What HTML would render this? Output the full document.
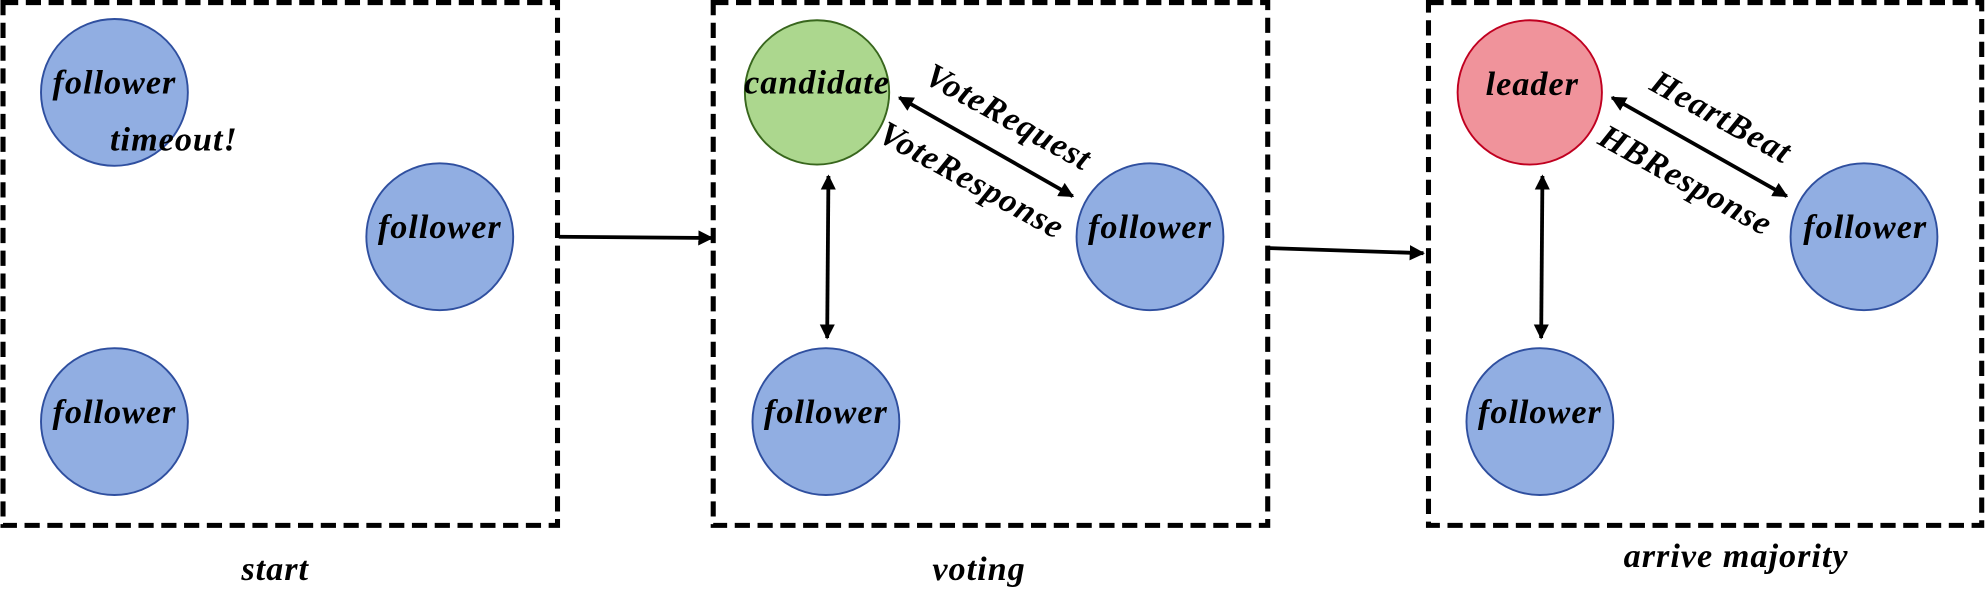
<!DOCTYPE html>
<html><head><meta charset="utf-8"><style>
html,body{margin:0;padding:0;background:#fff;}
svg{display:block;}
text{font-family:"Liberation Serif","DejaVu Serif",serif;font-weight:bold;font-style:italic;font-size:27px;letter-spacing:0.8px;fill:#000;text-anchor:middle;}
</style></head><body>
<svg width="1986" height="595" viewBox="0 0 1568 470" xmlns="http://www.w3.org/2000/svg">
<defs>
<marker id="a" viewBox="0 0 10 10" refX="9" refY="5" markerWidth="4" markerHeight="4" orient="auto-start-reverse"><path d="M0,0L10,5L0,10z" fill="#000"/></marker>
</defs>
<g fill="none" stroke="#000" stroke-width="4" stroke-dasharray="12,6">
<rect x="2" y="2" width="438" height="413"/>
<rect x="563" y="2" width="438" height="413"/>
<rect x="1128" y="2" width="437" height="413"/>
</g>
<g stroke-width="1.5">
<circle cx="90" cy="73" r="58" fill="#91aee2" stroke="#2f4f9f"/>
<circle cx="347" cy="187" r="58" fill="#91aee2" stroke="#2f4f9f"/>
<circle cx="90" cy="333" r="58" fill="#91aee2" stroke="#2f4f9f"/>
<circle cx="645" cy="73" r="57" fill="#acd78e" stroke="#38661d"/>
<circle cx="908" cy="187" r="58" fill="#91aee2" stroke="#2f4f9f"/>
<circle cx="652" cy="333" r="58" fill="#91aee2" stroke="#2f4f9f"/>
<circle cx="1208" cy="73" r="57" fill="#f0939b" stroke="#c00020"/>
<circle cx="1472" cy="187" r="58" fill="#91aee2" stroke="#2f4f9f"/>
<circle cx="1216" cy="333" r="58" fill="#91aee2" stroke="#2f4f9f"/>
</g>
<g stroke="#000" stroke-width="3" fill="none">
<line x1="441" y1="187" x2="562" y2="188" marker-end="url(#a)"/>
<line x1="1002" y1="196" x2="1124" y2="200" marker-end="url(#a)"/>
<line x1="710" y1="77" x2="847" y2="155" marker-start="url(#a)" marker-end="url(#a)"/>
<line x1="654" y1="139" x2="653" y2="267" marker-start="url(#a)" marker-end="url(#a)"/>
<line x1="1273" y1="77" x2="1411" y2="155" marker-start="url(#a)" marker-end="url(#a)"/>
<line x1="1218" y1="139" x2="1217" y2="267" marker-start="url(#a)" marker-end="url(#a)"/>
</g>
<text x="90" y="74">follower</text>
<text x="137" y="119">timeout!</text>
<text x="347" y="188">follower</text>
<text x="90" y="334">follower</text>
<text x="645" y="74">candidate</text>
<text x="908" y="188">follower</text>
<text x="652" y="334">follower</text>
<text x="1210" y="75">leader</text>
<text x="1473" y="188">follower</text>
<text x="1216" y="334">follower</text>
<text transform="translate(792,100) rotate(29)">VoteRequest</text>
<text transform="translate(763,150) rotate(29)">VoteResponse</text>
<text transform="translate(1355,100) rotate(29)">HeartBeat</text>
<text transform="translate(1327,150) rotate(29)">HBResponse</text>
<text x="217" y="458">start</text>
<text x="773" y="458">voting</text>
<text x="1371" y="448">arrive majority</text>
</svg>
</body></html>
